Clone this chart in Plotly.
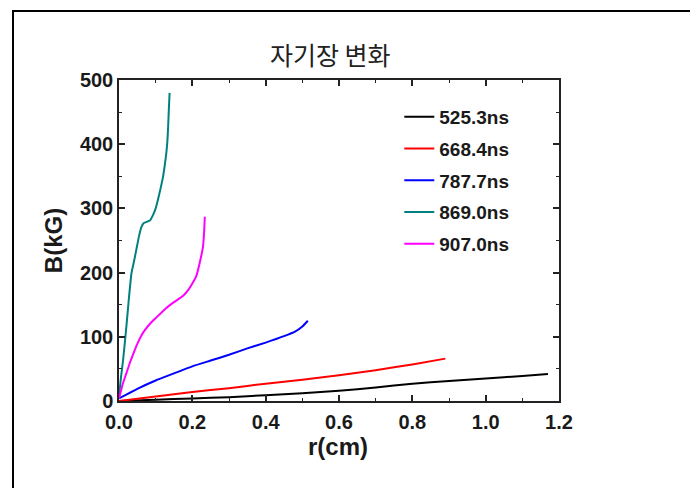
import plotly.graph_objects as go

# ---- data ----
names = ["525.3ns", "668.4ns", "787.7ns", "869.0ns", "907.0ns"]
colors = ["#000000", "#ff0000", "#0000ff", "#008080", "#ff00ff"]

r_525 = [0.0, 0.1, 0.2, 0.3, 0.4, 0.5, 0.6, 0.7, 0.8, 0.9, 1.0, 1.1, 1.17]
b_525 = [0, 2, 4, 6, 9, 12, 16, 21, 27, 31, 35, 39, 42]

r_668 = [0.0, 0.1, 0.2, 0.3, 0.4, 0.5, 0.6, 0.7, 0.8, 0.89]
b_668 = [0, 7, 14, 20, 27, 33, 40, 48, 57, 66]

r_787 = [0.0, 0.05, 0.1, 0.15, 0.2, 0.25, 0.3, 0.35, 0.4, 0.45, 0.48, 0.5, 0.515]
b_787 = [4, 19, 32, 43, 54, 63, 72, 82, 91, 101, 108, 116, 125]

r_869 = [0.0, 0.005, 0.011, 0.02, 0.027, 0.034, 0.04, 0.047, 0.055, 0.061, 0.067, 0.075,
         0.084, 0.093, 0.1, 0.106, 0.113, 0.12, 0.125, 0.129, 0.132, 0.134, 0.136, 0.138]
b_869 = [6, 35, 63, 115, 160, 199, 215, 235, 258, 271, 277, 279,
         281, 290, 300, 313, 330, 349, 368, 386, 405, 427, 455, 480]

r_907 = [0.0, 0.005, 0.01, 0.02, 0.03, 0.04, 0.05, 0.06, 0.07, 0.084, 0.1, 0.129, 0.15,
         0.175, 0.19, 0.2, 0.211, 0.22, 0.229, 0.232, 0.234]
b_907 = [4, 15, 26, 43, 60, 75, 89, 101, 110, 120, 129, 145, 154,
         164, 174, 183, 195, 215, 240, 262, 287]

series_r = [r_525, r_668, r_787, r_869, r_907]
series_b = [b_525, b_668, b_787, b_869, b_907]

x_ticks = [0.0, 0.2, 0.4, 0.6, 0.8, 1.0, 1.2]
x_labels = ["0.0", "0.2", "0.4", "0.6", "0.8", "1.0", "1.2"]
y_ticks = [0, 100, 200, 300, 400, 500]

title_text = "자기장 변화"
x_title = "r(cm)"
y_title = "B(kG)"

# reference plot-area pixel geometry (screen coords)
PL, PR, PT, PB = 119.0, 559.0, 80.0, 400.7
PW, PH = PR - PL, PB - PT
BODY = 8  # default page body margin offset

def px(xs):
    return (xs - PL) / PW

def py(ys):
    return (PB - ys) / PH

fig = go.Figure()
for i in range(len(names)):
    fig.add_trace(go.Scatter(
        x=series_r[i], y=series_b[i], mode="lines", name=names[i],
        line=dict(color=colors[i], width=2, shape="spline", smoothing=0.5),
        legendgroup=names[i],
    ))

axis_common = dict(
    showline=True, linecolor="#222222", linewidth=1.5, mirror="ticks",
    ticks="inside", ticklen=6, tickwidth=1.5, tickcolor="#222222",
    showgrid=False, zeroline=False,
    tickfont=dict(family="Liberation Sans", size=20, color="#1a1a1a", weight="bold"),
    minor=dict(ticks="inside", ticklen=3, tickwidth=1.2, tickcolor="#222222", showgrid=False),
)

l_m = PL - BODY
t_m = PT - BODY
fig.update_layout(
    width=698, height=488,
    margin=dict(l=l_m, r=698 - l_m - PW, t=t_m, b=488 - t_m - PH),
    paper_bgcolor="white", plot_bgcolor="white",
    showlegend=True,
    legend=dict(
        x=px(399.3), y=py(98), xanchor="left", yanchor="top",
        font=dict(family="Liberation Sans", size=19, color="#1a1a1a", weight="bold"),
        tracegroupgap=4, bgcolor="rgba(0,0,0,0)", itemwidth=30,
    ),
    xaxis=dict(range=[0, 1.2], tickvals=x_ticks, ticktext=x_labels, minor_dtick=0.1,
               ticklabelstandoff=2, **axis_common),
    yaxis=dict(range=[0, 500], tickvals=y_ticks, minor_dtick=50, **axis_common),
    annotations=[
        dict(text=title_text, xref="paper", yref="paper", x=px(330), y=py(54),
             xanchor="center", yanchor="middle", showarrow=False,
             font=dict(family="Noto Sans CJK KR", size=25, color="#222222")),
        dict(text=x_title, xref="paper", yref="paper", x=px(338), y=py(446),
             xanchor="center", yanchor="middle", showarrow=False,
             font=dict(family="Liberation Sans", size=24, color="#1a1a1a", weight="bold")),
        dict(text=y_title, xref="paper", yref="paper", x=px(53), y=py(241),
             xanchor="center", yanchor="middle", showarrow=False, textangle=-90,
             font=dict(family="Liberation Sans", size=24, color="#1a1a1a", weight="bold")),
    ],
    shapes=[dict(
        type="rect", xref="paper", yref="paper",
        x0=px(13), x1=px(696), y0=py(520), y1=py(11),
        line=dict(color="#000000", width=2), fillcolor="rgba(0,0,0,0)",
    )],
)

fig.write_html("out.html")
